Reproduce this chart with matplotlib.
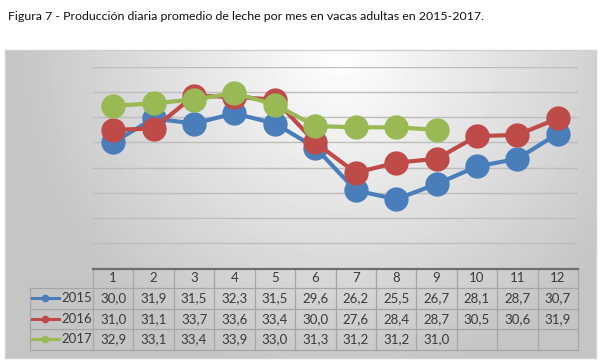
import matplotlib.pyplot as plt
import numpy as np
from matplotlib.transforms import blended_transform_factory

plt.rcParams['font.family'] = ['Lato', 'DejaVu Sans']

# datos
meses = [1, 2, 3, 4, 5, 6, 7, 8, 9, 10, 11, 12]
anios = ['2015', '2016', '2017']
p2015 = [30.0, 31.9, 31.5, 32.3, 31.5, 29.6, 26.2, 25.5, 26.7, 28.1, 28.7, 30.7]
p2016 = [31.0, 31.1, 33.7, 33.6, 33.4, 30.0, 27.6, 28.4, 28.7, 30.5, 30.6, 31.9]
p2017 = [32.9, 33.1, 33.4, 33.9, 33.0, 31.3, 31.2, 31.2, 31.0]
series = [p2015, p2016, p2017]
colores = ['#4A7EBB', '#BE4B48', '#98B954']

W, H = 600, 363
fig = plt.figure(figsize=(6, 3.63), dpi=100)

fig.text(8 / W, 1 - 16 / H,
         'Figura 7 - Producción diaria promedio de leche por mes en vacas adultas en 2015-2017.',
         fontsize=8.9, color='#111111', va='center', ha='left')

# fondo con degradado radial
x0, x1, y0, y1 = 5, 596, 50, 358
bg = fig.add_axes([x0 / W, 1 - y1 / H, (x1 - x0) / W, (y1 - y0) / H])
xx, yy = np.meshgrid(np.arange(x0, x1), np.arange(y0, y1))
r = np.sqrt(((xx - 340) / 300.0) ** 2 + ((yy - 55) / 300.0) ** 2)
grad = np.clip(1 - 0.21 * r, 0.77, 1.0)
bg.imshow(grad, cmap='gray', vmin=0, vmax=1, aspect='auto', interpolation='bilinear')
bg.set_xticks([])
bg.set_yticks([])
for s in bg.spines.values():
    s.set_color('#D0D0D0')
    s.set_linewidth(1)

# area del grafico
px0, px1, py0, py1 = 93, 578, 66.7, 268.7
ax = fig.add_axes([px0 / W, 1 - py1 / H, (px1 - px0) / W, (py1 - py0) / H])
ax.set_facecolor('none')
ax.set_xlim(0.5, 12.5)
ax.set_ylim(20, 36)
ax.set_yticks(np.arange(20, 37, 2))
ax.yaxis.grid(True, color='#BDBDBD', linewidth=1)
ax.set_axisbelow(True)
ax.tick_params(left=False, bottom=False, labelleft=False, labelbottom=False)
for k in ['left', 'right', 'top']:
    ax.spines[k].set_visible(False)
ax.spines['bottom'].set_color('#6E6E6E')
ax.spines['bottom'].set_linewidth(1.6)

for vals, c in zip(series, colores):
    ax.plot(meses[:len(vals)], vals, color=c, linewidth=3, marker='o',
            markersize=16.5, markerfacecolor=c, markeredgecolor=c, zorder=3)

# tabla de datos
tr = blended_transform_factory(ax.transData, ax.transAxes)
ph = py1 - py0
fila = 20.5 / ph
cab = 19.5 / ph
bordes = [0.5 + i for i in range(13)]
key_x = 0.5 - (px0 - 30) / ((px1 - px0) / 12)
y_cab = -cab
y_filas = [y_cab - fila * (i + 1) for i in range(3)]
y_fin = y_filas[-1]
lc = '#A6A6A6'

for xb in bordes:
    ax.plot([xb, xb], [0, y_fin], transform=tr, color=lc, lw=0.9, clip_on=False)
ax.plot([key_x, key_x], [y_cab, y_fin], transform=tr, color=lc, lw=0.9, clip_on=False)
ax.plot([key_x, 12.5], [y_cab, y_cab], transform=tr, color=lc, lw=0.9, clip_on=False)
for yv in y_filas:
    ax.plot([key_x, 12.5], [yv, yv], transform=tr, color=lc, lw=0.9, clip_on=False)

tc = '#3A3A3A'
fs = 9.5
for m in meses:
    ax.text(m, -cab / 2, str(m), transform=tr, ha='center', va='center',
            fontsize=fs, color=tc, clip_on=False)

for i, (vals, c, a) in enumerate(zip(series, colores, anios)):
    yc = y_cab - fila * (i + 0.5)
    for m, v in zip(meses, vals):
        ax.text(m, yc, f'{v:.1f}'.replace('.', ','), transform=tr, ha='center',
                va='center', fontsize=fs, color=tc, clip_on=False)
    kx = key_x + 0.05
    ax.plot([kx, kx + 0.66], [yc, yc], transform=tr, color=c, lw=2.2, clip_on=False)
    ax.plot([kx + 0.33], [yc], transform=tr, color=c, marker='o', markersize=4.5,
            clip_on=False)
    ax.text(0.47, yc, a, transform=tr, ha='right', va='center', fontsize=fs,
            color=tc, clip_on=False)

fig.savefig('out.png', dpi=100)
